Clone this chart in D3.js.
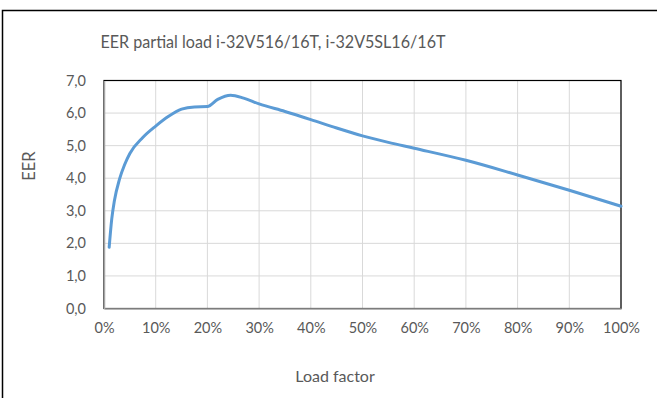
<!DOCTYPE html>
<html>
<head>
<meta charset="utf-8">
<script src="https://cdn.jsdelivr.net/npm/d3@7"></script>
<style>
  html, body { margin: 0; padding: 0; background: #fff; }
  svg { display: block; }
  text { font-family: Lato, "Open Sans", sans-serif; fill: #595959; }
</style>
</head>
<body>
<svg id="chart" width="657" height="398"></svg>
<script>
// Load factor (fraction of full load) and the matching EER readings
const loadFactor = [0.01, 0.015, 0.02, 0.03, 0.04, 0.05, 0.075, 0.10, 0.125, 0.15, 0.175, 0.20,
                    0.22, 0.245, 0.27, 0.30, 0.35, 0.40, 0.45, 0.50, 0.55, 0.60, 0.70, 0.80, 0.90, 1.00];
const eer =        [1.88, 2.75, 3.30, 3.97, 4.42, 4.76, 5.25, 5.60, 5.90, 6.12, 6.19, 6.20,
                    6.42, 6.55, 6.46, 6.28, 6.05, 5.80, 5.54, 5.30, 5.10, 4.92, 4.55, 4.10, 3.63, 3.14];

const xTicks = [0, 0.1, 0.2, 0.3, 0.4, 0.5, 0.6, 0.7, 0.8, 0.9, 1.0];
const yTicks = [0, 1, 2, 3, 4, 5, 6, 7];

const chartTitle = "EER partial load i-32V516/16T, i-32V5SL16/16T";
const xTitle = "Load factor";
const yTitle = "EER";

const svg = d3.select("#chart");

// Plot area bounds
const plotL = 104, plotR = 621, plotT = 80.5, plotB = 308.5;

const x = d3.scaleLinear().domain([0, 1]).range([plotL, plotR]);
const y = d3.scaleLinear().domain([0, 7]).range([plotB, plotT]);

// Outer chart frame (continues past the window edges)
svg.append("rect")
  .attr("x", 2.5).attr("y", 10.5)
  .attr("width", 720).attr("height", 450)
  .attr("fill", "none").attr("stroke", "#000").attr("stroke-width", 1.5);

// Title
svg.append("text")
  .attr("x", 273).attr("y", 48)
  .attr("text-anchor", "middle")
  .attr("font-size", 18)
  .attr("textLength", 345)
  .attr("lengthAdjust", "spacingAndGlyphs")
  .text(chartTitle);

// Gridlines
const grid = svg.append("g");
grid.selectAll(".gx").data(xTicks).join("line")
  .attr("x1", d => x(d)).attr("x2", d => x(d))
  .attr("y1", plotT).attr("y2", plotB)
  .attr("stroke", "#d9d9d9").attr("stroke-width", 1);
grid.selectAll(".gy").data(yTicks).join("line")
  .attr("x1", plotL).attr("x2", plotR)
  .attr("y1", d => y(d)).attr("y2", d => y(d))
  .attr("stroke", "#d9d9d9").attr("stroke-width", 1);

// Plot area border
svg.append("rect")
  .attr("x", plotL).attr("y", plotT)
  .attr("width", plotR - plotL).attr("height", plotB - plotT)
  .attr("fill", "none").attr("stroke", "#000").attr("stroke-width", 1.2);

// Axes
const fmtY = d => d3.format(".1f")(d).replace(".", ",");
const fmtX = d => d3.format(".0%")(d);

const yAxis = svg.append("g")
  .attr("transform", `translate(${plotL},0)`)
  .call(d3.axisLeft(y).tickValues(yTicks).tickFormat(fmtY).tickSize(0).tickPadding(18));
yAxis.select(".domain").attr("stroke", "#a6a6a6").attr("stroke-width", 1.5);
yAxis.selectAll("text").attr("font-size", 14.5).attr("font-family", "Lato, sans-serif").attr("fill", "#595959");

const xAxis = svg.append("g")
  .attr("transform", `translate(0,${plotB})`)
  .call(d3.axisBottom(x).tickValues(xTicks).tickFormat(fmtX).tickSize(0).tickPadding(14));
xAxis.select(".domain").attr("stroke", "#a6a6a6").attr("stroke-width", 1.5);
xAxis.selectAll("text").attr("font-size", 14.5).attr("font-family", "Lato, sans-serif").attr("fill", "#595959");

// Axis titles
svg.append("text")
  .attr("x", 335).attr("y", 382)
  .attr("text-anchor", "middle")
  .attr("font-size", 16)
  .text(xTitle);

svg.append("text")
  .attr("transform", "translate(35,166) rotate(-90)")
  .attr("text-anchor", "middle")
  .attr("font-size", 16.5)
  .text(yTitle);

// EER curve
const pts = loadFactor.map((d, i) => [d, eer[i]]);
const line = d3.line()
  .x(d => x(d[0]))
  .y(d => y(d[1]))
  .curve(d3.curveMonotoneX);

svg.append("path")
  .datum(pts)
  .attr("d", line)
  .attr("fill", "none")
  .attr("stroke", "#5b9bd5")
  .attr("stroke-width", 3)
  .attr("stroke-linecap", "round")
  .attr("stroke-linejoin", "round");
</script>
</body>
</html>
